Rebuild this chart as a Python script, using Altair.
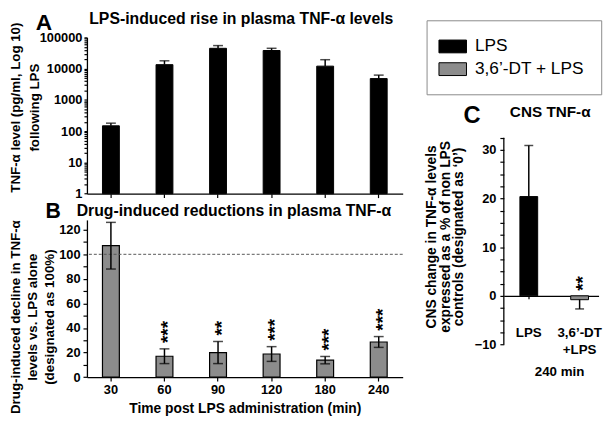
import altair as alt
import pandas as pd

FONT = "Liberation Sans"

# ---------------- data ----------------
times = ["30", "60", "90", "120", "180", "240"]
series = ["LPS", "3,6\u2019-DT + LPS"]
series_colors = ["#000000", "#8c8c8c"]

# Panel A: plasma TNF-alpha (pg/ml, log scale), LPS alone
a_mean = [148, 13400, 44700, 38000, 12000, 4800]
a_upper = [180, 17800, 54600, 44700, 19300, 6200]
a_axis_floor = 1

# Panel B: % of LPS alone, drug + LPS
b_mean = [107, 17, 20, 18.8, 13.8, 28.6]
b_sem = [19, 6, 9, 6, 3, 4.4]
b_stars = ["", "***", "**", "***", "***", "***"]

# Panel C: CNS change (%), 240 min
c_conditions = ["LPS", "3,6\u2019-DT|+LPS"]
c_mean = [20.4, -0.8]
c_bar_end = [30.9, -2.7]
c_stars = ["", "**"]
c_axis_extent = [-10, 32.5]

# axis tick values
a_ticks = [m * d for d in [1, 10, 100, 1000, 10000] for m in range(1, 10)] + [100000]
b_ticks = [0, 10, 20, 30, 40, 50, 60, 70, 80, 90, 100, 110, 120]
c_ticks = [-10, -7.5, -5, -2.5, 0, 2.5, 5, 7.5, 10, 12.5, 15, 17.5, 20, 22.5, 25, 27.5, 30, 32.5]

# ---------------- tables ----------------
dfA = pd.DataFrame({"time": times, "value": a_mean, "upper": a_upper,
                    "base": a_axis_floor, "group": series[0]})
dfB = pd.DataFrame({"time": times, "value": b_mean, "sem": b_sem, "stars": b_stars, "group": series[1]})
dfB["lo"] = dfB["value"] - dfB["sem"]
dfB["hi"] = dfB["value"] + dfB["sem"]
dfC = pd.DataFrame({"cond": c_conditions, "value": c_mean, "end": c_bar_end,
                    "stars": c_stars, "group": series, "zero": [0, 0]})
dfC_axis = pd.DataFrame({"lo": [c_axis_extent[0]], "hi": [c_axis_extent[1]]})

color_scale = alt.Scale(domain=series, range=series_colors)
legendC = alt.Legend(
    title=None, orient="none", legendX=-78.3, legendY=-17.3, direction="vertical",
    symbolType="M-1.55,-0.72H1.55V0.72H-1.55Z", symbolSize=324,
    symbolStrokeColor="black", symbolStrokeWidth=1,
    labelFont=FONT, labelFontSize=17.5, labelFontWeight="normal", labelColor="black",
    labelOffset=13, padding=17, rowPadding=5, strokeColor="#8a8a8a", labelLimit=300,
)


def note(text, x, y, size, align="left"):
    return alt.Chart(pd.DataFrame({"t": [text]})).mark_text(
        font=FONT, fontWeight="bold", fontSize=size, align=align,
        baseline="alphabetic", color="black"
    ).encode(text="t:N", x=alt.value(x), y=alt.value(y))


band6 = alt.Scale(paddingInner=0.685, paddingOuter=0.29)

# ---------------- panel A ----------------
xA = alt.X("time:N", sort=times, scale=band6,
           axis=alt.Axis(labels=False, title=None, tickSize=4))
yA_scale = alt.Scale(type="log", domain=[1, 100000], nice=False)
yA_axis = alt.Axis(
    values=a_ticks, format="d",
    labelExpr="indexof([1,10,100,1000,10000,100000], datum.value) >= 0 ? datum.label : ''",
    tickSize=3, labelPadding=2, labelFontSize=13, labelOverlap=False,
    title=["TNF-\u03b1 level (pg/ml, Log 10)", "following LPS"],
    titleAngle=270, titleX=-72.2, titleY=70.7, titleAlign="center",
    titleBaseline="middle", titleFontSize=13.5, titleLineHeight=19.5,
)
barsA = alt.Chart(dfA).mark_bar(stroke="black", strokeWidth=1).encode(
    x=xA, y=alt.Y("value:Q", scale=yA_scale, axis=yA_axis), y2="base:Q",
    color=alt.Color("group:N", scale=color_scale, legend=None))
ruleA = alt.Chart(dfA).mark_rule(color="black", strokeWidth=1.5).encode(
    x=xA, y=alt.Y("value:Q", scale=yA_scale, axis=yA_axis), y2="upper:Q")
capA = alt.Chart(dfA).mark_tick(color="black", size=10, thickness=1.5).encode(
    x=xA, y=alt.Y("upper:Q", scale=yA_scale, axis=yA_axis))
panelA = alt.layer(
    barsA, ruleA, capA,
    note("A", -52, -7.3, 23),
    note("LPS-induced rise in plasma TNF-\u03b1 levels", 156.4, -13.3, 16, "center"),
).properties(width=320, height=158.4)

# ---------------- panel B ----------------
xB = alt.X("time:N", sort=times, scale=band6,
           axis=alt.Axis(labelAngle=0, labelFontSize=13, tickSize=4, labelPadding=3,
                         title="Time post LPS administration (min)", titleFontSize=14,
                         titleX=160, titleY=36.2, titleAlign="center",
                         titleBaseline="alphabetic"))
yB_scale = alt.Scale(domain=[0, 128], nice=False)
yB_axis = alt.Axis(
    values=b_ticks, labelExpr="datum.value % 20 == 0 ? datum.label : ''",
    tickSize=4, labelPadding=3, labelFontSize=13, labelOverlap=False,
    title=["Drug-induced decline in TNF-\u03b1", "levels vs. LPS  alone", "(designated as 100%)"],
    titleAngle=270, titleX=-72.2, titleY=98, titleAlign="center",
    titleBaseline="middle", titleFontSize=13.5, titleLineHeight=17,
)
barsB = alt.Chart(dfB).mark_bar(stroke="black", strokeWidth=1.2).encode(
    x=xB, y=alt.Y("value:Q", scale=yB_scale, axis=yB_axis),
    color=alt.Color("group:N", scale=color_scale, legend=None))
refB = alt.Chart(pd.DataFrame({"r": [100]})).mark_rule(
    strokeDash=[3, 2], color="#555555", strokeWidth=1).encode(
    y=alt.Y("r:Q", scale=yB_scale, axis=yB_axis))
ruleB = alt.Chart(dfB).mark_rule(color="black", strokeWidth=1.5).encode(
    x=xB, y=alt.Y("lo:Q", scale=yB_scale, axis=yB_axis), y2="hi:Q")
capB_hi = alt.Chart(dfB).mark_tick(color="black", size=10, thickness=1.5).encode(
    x=xB, y=alt.Y("hi:Q", scale=yB_scale, axis=yB_axis))
capB_lo = alt.Chart(dfB).mark_tick(color="black", size=10, thickness=1.5).encode(
    x=xB, y=alt.Y("lo:Q", scale=yB_scale, axis=yB_axis))
starsB = alt.Chart(dfB).mark_text(
    font=FONT, fontWeight="bold", fontSize=19, angle=270, align="left",
    baseline="alphabetic", dx=6, dy=10, color="black").encode(
    x=xB, y=alt.Y("hi:Q", scale=yB_scale, axis=yB_axis), text="stars:N")
panelB = alt.layer(
    barsB, refB, ruleB, capB_hi, capB_lo, starsB,
    note("B", -42, -1.5, 21.5),
    note("Drug-induced reductions in plasma TNF-\u03b1", 149, -3.5, 16, "center"),
).properties(width=320, height=159.3)

# ---------------- panel C ----------------
# plot origin is aligned with panel A's top; the data range occupies the lower part
xC = alt.X("cond:N", sort=c_conditions,
           scale=alt.Scale(paddingInner=0.65, paddingOuter=0.257, align=0.615),
           axis=alt.Axis(offset=-49.3, tickSize=3, labelPadding=27.5,
                         labelExpr="split(datum.label, '|')", labelAngle=0,
                         labelBaseline="top", labelFontSize=13.5, labelLineHeight=16.5,
                         labelOverlap=False, title="240 min", titleFontSize=13.5,
                         titleX=56, titleY=80.8, titleAlign="center",
                         titleBaseline="alphabetic"))
yC_scale = alt.Scale(domain=[-10, 53.13], nice=False)
yC_axis = alt.Axis(
    values=c_ticks, labelExpr="datum.value % 10 == 0 ? datum.label : ''",
    domain=False, tickSize=4, labelPadding=4, labelFontSize=13, labelOverlap=False,
    title=["CNS change in TNF-\u03b1 levels", "expressed as a % of non LPS",
           "controls (designated as \u20180\u2019)"],
    titleAngle=270, titleX=-73.5, titleY=201.7, titleAlign="center",
    titleBaseline="middle", titleFontSize=14, titleLineHeight=14,
)
axisLineC = alt.Chart(dfC_axis).mark_rule(color="black", strokeWidth=1.3).encode(
    x=alt.value(0), y=alt.Y("lo:Q", scale=yC_scale, axis=yC_axis), y2="hi:Q")
barsC = alt.Chart(dfC).mark_bar(stroke="black", strokeWidth=1).encode(
    x=xC, y=alt.Y("value:Q", scale=yC_scale, axis=yC_axis),
    color=alt.Color("group:N", scale=color_scale, legend=legendC))
ruleC = alt.Chart(dfC).mark_rule(color="black", strokeWidth=1.5).encode(
    x=xC, y=alt.Y("value:Q", scale=yC_scale, axis=yC_axis), y2="end:Q")
capC = alt.Chart(dfC).mark_tick(color="black", size=9, thickness=1.5).encode(
    x=xC, y=alt.Y("end:Q", scale=yC_scale, axis=yC_axis))
starsC = alt.Chart(dfC).mark_text(
    font=FONT, fontWeight="bold", fontSize=19, angle=270, align="left",
    baseline="alphabetic", dx=5, dy=10, color="black").encode(
    x=xC, y=alt.Y("zero:Q", scale=yC_scale, axis=yC_axis), text="stars:N")
panelC = alt.layer(
    barsC, axisLineC, ruleC, capC, starsC,
    note("C", -41, 86.7, 24),
    note("CNS TNF-\u03b1", 47, 80.2, 15.5, "center"),
).properties(width=96, height=311.2)

left = alt.vconcat(panelA, panelB, spacing=0).resolve_scale(
    color="independent").resolve_legend(color="independent")

chart = alt.hconcat(left, panelC, spacing=20.5).resolve_scale(
    color="independent").resolve_legend(color="independent").properties(padding=0).configure_view(
    stroke="transparent"
).configure_axis(
    domainColor="black", tickColor="black", labelColor="black", titleColor="black",
    labelFont=FONT, titleFont=FONT, labelFontWeight="bold", titleFontWeight="bold",
    grid=False, domainWidth=1.3, tickWidth=1.2,
)

chart.save("out.html", embed_options={"renderer": "svg", "actions": False})
